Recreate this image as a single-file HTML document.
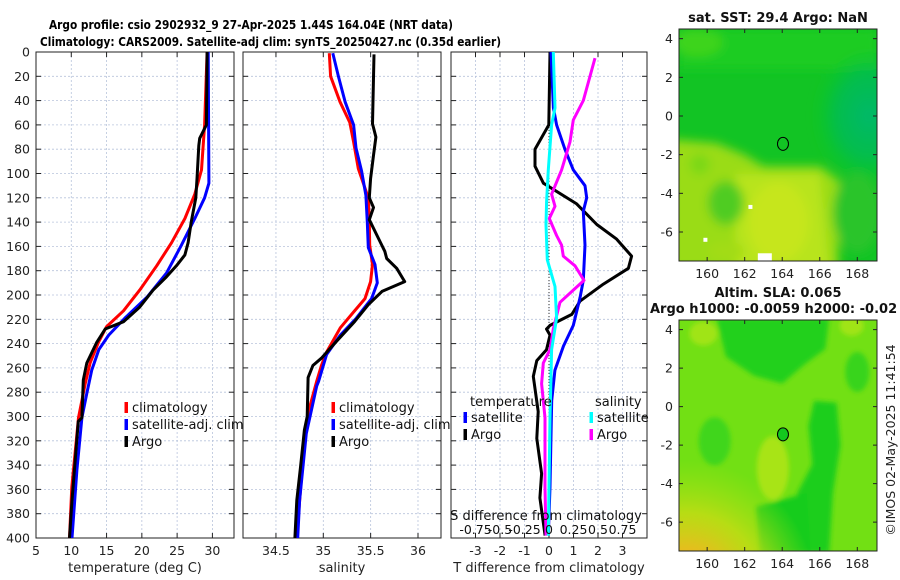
<!DOCTYPE html>
<html><head><meta charset="utf-8"><style>
html,body{margin:0;padding:0;background:#fff;width:900px;height:580px;overflow:hidden}
svg{display:block;font-family:"DejaVu Sans","Liberation Sans",sans-serif}
</style></head><body>
<svg id="fig" width="900" height="580" viewBox="0 0 900 580" xmlns="http://www.w3.org/2000/svg">
<defs>
<clipPath id="clipP1"><rect x="36" y="52" width="198" height="486"/></clipPath>
<clipPath id="clipP2"><rect x="243" y="52" width="198" height="486"/></clipPath>
<clipPath id="clipP3"><rect x="451" y="52" width="196" height="486"/></clipPath>
<clipPath id="clipM1"><rect x="679" y="29" width="198" height="232"/></clipPath>
<clipPath id="clipM2"><rect x="679" y="320" width="198" height="231"/></clipPath>
<filter id="blur6"><feGaussianBlur stdDeviation="5"/></filter>
<filter id="blur3"><feGaussianBlur stdDeviation="2.5"/></filter>
<radialGradient id="teal" cx="0.5" cy="0.5" r="0.5"><stop offset="0" stop-color="#00b86a"/><stop offset="0.6" stop-color="#03bc55" stop-opacity="0.8"/><stop offset="1" stop-color="#10c830" stop-opacity="0"/></radialGradient>
<radialGradient id="orange" cx="0.05" cy="1" r="1"><stop offset="0" stop-color="#eea822"/><stop offset="0.3" stop-color="#e8bc1e"/><stop offset="0.6" stop-color="#c8dc14" stop-opacity="0.8"/><stop offset="1" stop-color="#a8e212" stop-opacity="0"/></radialGradient>
</defs>
<g id="titles">
<text x="49" y="29" font-size="12" font-weight="bold" textLength="404" lengthAdjust="spacingAndGlyphs">Argo profile: csio 2902932_9 27-Apr-2025 1.44S 164.04E (NRT data)</text>
<text x="40" y="46" font-size="12" font-weight="bold" textLength="461" lengthAdjust="spacingAndGlyphs">Climatology: CARS2009. Satellite-adj clim: synTS_20250427.nc (0.35d earlier)</text>
</g>
<g id="panels"></g>
<g id="maps"></g>
</svg>
<script>
// ---------- data ----------
const climTdepth = [0,60,97,117,137,157,176,196,213,226,239,256,273,301,358,400];
const climT      = [29.25,28.9,28.45,27.5,26.1,24.2,22.1,19.7,17.4,15.0,13.85,12.67,11.97,11.03,10.08,9.75];
const satTdepth  = [0,108,120,137,159,182,202,219,233,245,262,281,301,344,400];
const satT       = [29.4,29.5,28.9,27.5,25.6,23.5,20.7,17.6,15.3,13.9,12.9,12.2,11.5,10.8,10.1];
const argoTdepth = [0,60,71,77,103,120,140,157,167,176,185,196,210,222,228,239,256,270,301,304,369,400];
const argoT      = [29.25,29.15,28.2,28.07,27.83,27.65,27.0,26.56,26.1,24.9,23.5,21.6,19.7,17.4,14.8,13.6,12.2,11.7,11.5,11.0,10.1,9.75];
const climSdepth = [1,20,41,58,74,96,120,140,159,175,189,203,214,227,247,258,271,297,330,379,400];
const climS      = [35.063,35.077,35.176,35.28,35.32,35.37,35.475,35.486,35.49,35.52,35.50,35.44,35.32,35.18,35.035,34.98,34.93,34.84,34.79,34.74,34.72];
const satSdepth  = [1,20,41,60,79,98,118,140,161,175,190,203,219,233,249,271,275,314,369,400];
const satS       = [35.1,35.16,35.23,35.32,35.345,35.405,35.45,35.465,35.475,35.546,35.57,35.51,35.35,35.18,35.035,34.95,34.93,34.82,34.75,34.73];
const argoSdepth = [2,59,70,85,104,120,128,138,153,164,170,178,189,197,208,222,238,252,258,268,300,311,341,369,400];
const argoS      = [35.535,35.52,35.556,35.53,35.50,35.486,35.53,35.486,35.58,35.65,35.67,35.775,35.86,35.62,35.475,35.33,35.14,34.98,34.89,34.84,34.83,34.80,34.76,34.72,34.70];
const dTsatDepth  = [0,46,60,80,97,110,120,131,159,188,202,225,242,262,287,358,398];
const dTsat       = [0.08,0.18,0.31,0.65,0.99,1.47,1.54,1.4,1.47,1.4,1.27,0.99,0.59,0.24,0.11,0.04,-0.03];
const dTargoDepth = [0,60,80,94,108,125,142,154,168,178,191,205,216,225,228,233,245,254,267,296,318,347,367,398];
const dTargo      = [0.04,-0.01,-0.57,-0.57,-0.23,1.13,1.95,2.76,3.37,3.24,2.22,1.27,0.93,0.04,-0.1,0.04,-0.1,-0.5,-0.64,-0.44,-0.5,-0.3,-0.37,-0.16];
const dSsatDepth  = [0,46,60,97,123,142,171,193,219,245,301,398];
const dSsat       = [0.044,0.061,0.027,-0.007,-0.024,-0.031,-0.017,0.061,0.078,0.027,0.01,-0.007];
const dSargoDepth = [5,40,56,74,97,117,127,137,151,159,168,176,188,196,206,228,245,256,273,301,358,398];
const dSargo      = [0.469,0.35,0.248,0.214,0.129,0.027,0.061,0.003,0.078,0.129,0.146,0.265,0.357,0.248,0.112,0.044,0.01,-0.058,-0.075,-0.041,-0.041,-0.031];
const depthTicks = [0,20,40,60,80,100,120,140,160,180,200,220,240,260,280,300,320,340,360,380,400];
const tempTicks = [5,10,15,20,25,30];
const salTicks = [34.5,35,35.5,36];
const dTTicks = [-3,-2,-1,0,1,2,3];
const dSTickLabels = ["-0.75","-0.5","-0.25","0","0.25","0.5","0.75"];
const dSTicks = [-0.75,-0.5,-0.25,0,0.25,0.5,0.75];
const latTicks = [4,2,0,-2,-4,-6];
const lonTicks = [160,162,164,166,168];

// ---------- axes ----------
const NS="http://www.w3.org/2000/svg";
const Y0=52, Y1=538, DMAX=400;
function py(d){return Y0+d/DMAX*(Y1-Y0);}
const P = {
 t:{x0:36,x1:234,v0:5,v1:33.06},
 s:{x0:243,x1:441,v0:34.152,v1:36.243},
 d:{x0:451,x1:647,v0:-4,v1:4},
 ds:{x0:451,x1:647,v0:-1,v1:1}
};
function px(k,v){const p=P[k];return p.x0+(v-p.v0)/(p.v1-p.v0)*(p.x1-p.x0);}
function el(tag,attrs,parent){const e=document.createElementNS(NS,tag);for(const a in attrs)e.setAttribute(a,attrs[a]);parent.appendChild(e);return e;}
const root=document.getElementById('panels');

function panel(k,name,xticks,xlabels,xtitle,clip){
 const p=P[k];
 const g=el('g',{},root);
 
 
 depthTicks.forEach(d=>{ if(d>0&&d<400){const l=el('line',{x1:p.x0,x2:p.x1,y1:py(d),y2:py(d),stroke:'#b8c4dc','stroke-width':0.8,'stroke-dasharray':'2,2'},g);
 
 }});
 xticks.forEach((v,i)=>{const x=px(k,v);
  const l=el('line',{x1:x,x2:x,y1:Y0,y2:Y1,stroke:'#b8c4dc','stroke-width':0.8,'stroke-dasharray':'2,2'},g);
  
  
  el('line',{x1:x,x2:x,y1:Y1,y2:Y1-5,stroke:'#222'},g);
  el('line',{x1:x,x2:x,y1:Y0,y2:Y0+5,stroke:'#222'},g);
  const t=el('text',{x:x,y:Y1+17,'font-size':12.5,'text-anchor':'middle',fill:'#222'},g);
  t.textContent=xlabels[i];
  
  
 });
 depthTicks.forEach(d=>{el('line',{x1:p.x0,x2:p.x0+5,y1:py(d),y2:py(d),stroke:'#222'},g);el('line',{x1:p.x1,x2:p.x1-5,y1:py(d),y2:py(d),stroke:'#222'},g);});
 const fr=el('rect',{x:p.x0,y:Y0,width:p.x1-p.x0,height:Y1-Y0,fill:'none',stroke:'#222','stroke-width':1},g);
 
 
 const xt=el('text',{x:(p.x0+p.x1)/2,y:572,'font-size':13,'text-anchor':'middle',fill:'#222'},g);
 xt.textContent=xtitle;
 
 
 const lines=el('g',{'clip-path':'url(#'+clip+')'},g);
 return {g,lines};
}
function series(parent,k,depths,vals,color,name){
 const pts=depths.map((d,i)=>px(k,vals[i]).toFixed(1)+','+py(d).toFixed(1)).join(' ');
 const l=el('polyline',{points:pts,fill:'none',stroke:color,'stroke-width':3,'stroke-linejoin':'round'},parent);
 
 
}
function legendEntry(parent,x,y,color,label){
 const g=el('g',{},parent);
 
 
 el('rect',{x:x-1.5,y:y-10,width:3.5,height:11,fill:color},g);
 const t=el('text',{x:x+6,y:y,'font-size':13,fill:'#111'},g);
 t.textContent=label;
}

const p1=panel('t','temperature-panel',tempTicks,tempTicks.map(String),'temperature (deg C)','clipP1');
depthTicks.forEach(d=>{const t=el('text',{x:30,y:py(d)+4.5,'font-size':12.5,'text-anchor':'end',fill:'#222'},p1.g);t.textContent=d;
 
 });
series(p1.lines,'t',climTdepth,climT,'#ff0000','temp-climatology-line');
series(p1.lines,'t',satTdepth,satT,'#0000ff','temp-satellite-line');
series(p1.lines,'t',argoTdepth,argoT,'#000000','temp-argo-line');
legendEntry(p1.g,126,412,'#ff0000','climatology');
legendEntry(p1.g,126,429,'#0000ff','satellite-adj. clim');
legendEntry(p1.g,126,446,'#000000','Argo');

const p2=panel('s','salinity-panel',salTicks,salTicks.map(String),'salinity','clipP2');
series(p2.lines,'s',climSdepth,climS,'#ff0000','sal-climatology-line');
series(p2.lines,'s',satSdepth,satS,'#0000ff','sal-satellite-line');
series(p2.lines,'s',argoSdepth,argoS,'#000000','sal-argo-line');
legendEntry(p2.g,333,412,'#ff0000','climatology');
legendEntry(p2.g,333,429,'#0000ff','satellite-adj. clim');
legendEntry(p2.g,333,446,'#000000','Argo');

const p3=panel('d','difference-panel',dTTicks,dTTicks.map(String),'T difference from climatology','clipP3');
el('line',{x1:px('d',0),x2:px('d',0),y1:Y0,y2:Y1,stroke:'#333','stroke-width':1,'stroke-dasharray':'1,2'},p3.lines);
series(p3.lines,'d',dTargoDepth,dTargo,'#000000','dT-argo-line');
series(p3.lines,'d',dTsatDepth,dTsat,'#0000ff','dT-satellite-line');
series(p3.lines,'ds',dSargoDepth,dSargo,'#ff00ff','dS-argo-line');
series(p3.lines,'ds',dSsatDepth,dSsat,'#00ffff','dS-satellite-line');
(function(){
 const t1=el('text',{x:470,y:406,'font-size':13,fill:'#111'},p3.g);t1.textContent='temperature';
 
 
 const t2=el('text',{x:595,y:406,'font-size':13,fill:'#111'},p3.g);t2.textContent='salinity';
 
 
 legendEntry(p3.g,465,422,'#0000ff','satellite');
 legendEntry(p3.g,465,439,'#000000','Argo');
 legendEntry(p3.g,591,422,'#00ffff','satellite');
 legendEntry(p3.g,591,439,'#ff00ff','Argo');
 const st=el('text',{x:546,y:520,'font-size':13,'text-anchor':'middle',fill:'#111'},p3.g);st.textContent='S difference from climatology';
 
 
 dSTicks.forEach((v,i)=>{const t=el('text',{x:px('ds',v),y:534,'font-size':12.5,'text-anchor':'middle',fill:'#111'},p3.g);t.textContent=dSTickLabels[i];
  
  });
})();

// ---------- maps ----------
const mroot=document.getElementById('maps');
const M={lon0:158.5,lon1:169.05,lat0:4.5,lat1:-7.5};
function mx(lon){return 679+(lon-M.lon0)/(M.lon1-M.lon0)*198;}
function my(top,h,lat){return top+(M.lat0-lat)/(M.lat0-M.lat1)*h;}
function mapAxes(g,top,h){
 latTicks.forEach(l=>{const y=my(top,h,l);
  el('line',{x1:679,x2:683,y1:y,y2:y,stroke:'#222'},g);el('line',{x1:877,x2:873,y1:y,y2:y,stroke:'#222'},g);
  const t=el('text',{x:673,y:y+4.5,'font-size':12.5,'text-anchor':'end',fill:'#222'},g);t.textContent=l;
  
  });
 lonTicks.forEach(l=>{const x=mx(l);
  el('line',{x1:x,x2:x,y1:top+h,y2:top+h-4,stroke:'#222'},g);el('line',{x1:x,x2:x,y1:top,y2:top+4,stroke:'#222'},g);
  const t=el('text',{x:x,y:top+h+17,'font-size':12.5,'text-anchor':'middle',fill:'#222'},g);t.textContent=l;
  
  });
 el('rect',{x:679,y:top,width:198,height:h,fill:'none',stroke:'#222'},g);
}
// Map 1 SST
(function(){
 const g=el('g',{},mroot);
 
 
 const top=29,h=232;
 function P1(arr){let s='';for(let i=0;i<arr.length;i+=2)s+=mx(arr[i]).toFixed(1)+','+my(top,h,arr[i+1]).toFixed(1)+' ';return s;}
 const c=el('g',{'clip-path':'url(#clipM1)'},g);
 el('rect',{x:679,y:top,width:198,height:h,fill:'#12c424'},c);
 const b=el('g',{filter:'url(#blur6)'},c);
 el('rect',{x:679,y:top,width:198,height:40,fill:'#1ccc22'},b);
 el('ellipse',{cx:mx(159.5),cy:my(top,h,3.8),rx:25,ry:14,fill:'#3ed41e'},b);
 el('ellipse',{cx:mx(168.6),cy:my(top,h,0),rx:55,ry:70,fill:'url(#teal)'},b);
 el('polygon',{points:P1([158,-1.2,160.5,-1.4,162,-2,163,-2.6,166,-2.6,167,-3.3,167,-8,158,-8]),fill:'#9adc16'},b);
 el('polygon',{points:P1([161.5,-3,166,-3,166.5,-8,161.5,-8]),fill:'#b8e41a'},b);
 el('ellipse',{cx:mx(163.8),cy:my(top,h,-5.5),rx:30,ry:40,fill:'#c6e61a'},b);
 el('ellipse',{cx:mx(161),cy:my(top,h,-4.5),rx:18,ry:22,fill:'#50cc20'},b);
 el('ellipse',{cx:mx(159.6),cy:my(top,h,-2.5),rx:10,ry:10,fill:'#7ad818'},b);
 el('ellipse',{cx:mx(168),cy:my(top,h,-5),rx:24,ry:40,fill:'#2cc42c'},b);
 el('ellipse',{cx:mx(161),cy:my(top,h,-7),rx:18,ry:10,fill:'#a2dc16'},b);
 el('rect',{x:mx(162.7),y:my(top,h,-7.1),width:14,height:14,fill:'#fff'},c);
 el('rect',{x:mx(162.2),y:my(top,h,-4.6),width:4,height:4,fill:'#fff'},c);
 el('rect',{x:mx(159.8),y:my(top,h,-6.3),width:4,height:4,fill:'#fff'},c);
 const ci=el('ellipse',{cx:mx(164.04),cy:my(top,h,-1.44),rx:5.5,ry:6.5,fill:'none',stroke:'#000','stroke-width':1},c);
 
 
 mapAxes(g,top,h);
 const t=el('text',{x:778,y:22,'font-size':13,'font-weight':'bold','text-anchor':'middle',fill:'#111'},g);t.textContent='sat. SST: 29.4 Argo: NaN';
 
 
})();
// Map 2 SLA
(function(){
 const g=el('g',{},mroot);
 
 
 const top=320,h=231;
 const c=el('g',{'clip-path':'url(#clipM2)'},g);
 el('rect',{x:679,y:top,width:198,height:h,fill:'#72e014'},c);
 const b=el('g',{filter:'url(#blur3)'},c);
 function P2(arr){let s='';for(let i=0;i<arr.length;i+=2)s+=mx(arr[i]).toFixed(1)+','+my(top,h,arr[i+1]).toFixed(1)+' ';return s;}
 el('polygon',{points:P2([160.5,4.6,166.5,4.6,166.3,3,165.2,2.2,164,1.2,162.5,1.6,161,2.6]),fill:'#22d01c'},b);
 el('polygon',{points:P2([165.7,0.3,166.9,0.2,167.1,-2,166.7,-4.5,166.5,-7.6,164.8,-7.6,164.8,-4.5,165.6,-3,165.4,-1]),fill:'#1cce1e'},b);
 el('polygon',{points:P2([162.6,-5.2,165.3,-4.5,165.5,-7.6,162.8,-7.6]),fill:'#12cc1e'},b);
 el('ellipse',{cx:mx(160.4),cy:my(top,h,-1.8),rx:16,ry:24,fill:'#40d61a'},b);
 el('ellipse',{cx:mx(168),cy:my(top,h,1.8),rx:12,ry:20,fill:'#38d41a'},b);
 el('ellipse',{cx:mx(163.5),cy:my(top,h,-3.2),rx:16,ry:32,fill:'#a8e414'},b);
 el('ellipse',{cx:mx(159.8),cy:my(top,h,3.8),rx:14,ry:12,fill:'#a0e414'},b);
 el('ellipse',{cx:mx(167.7),cy:my(top,h,4.2),rx:12,ry:10,fill:'#a0e414'},b);
 el('rect',{x:679,y:my(top,h,-2.8),width:130,height:130,fill:'url(#orange)'},c);
 const ci=el('ellipse',{cx:mx(164.04),cy:my(top,h,-1.44),rx:5.5,ry:6.5,fill:'#14c81e',stroke:'#000','stroke-width':1},c);
 
 
 mapAxes(g,top,h);
 const t1=el('text',{x:778,y:297,'font-size':13,'font-weight':'bold','text-anchor':'middle',fill:'#111'},g);t1.textContent='Altim. SLA: 0.065';
 
 
 const t2=el('text',{x:650,y:313,'font-size':13,'font-weight':'bold',fill:'#111'},g);t2.textContent='Argo h1000: -0.0059 h2000: -0.02';
 
 
 const cp=el('text',{x:0,y:0,'font-size':12.5,'text-anchor':'middle',fill:'#222',transform:'translate(895,440) rotate(-90)'},g);cp.textContent='©IMOS 02-May-2025 11:41:54';
 
 
})();
</script>
</body></html>
